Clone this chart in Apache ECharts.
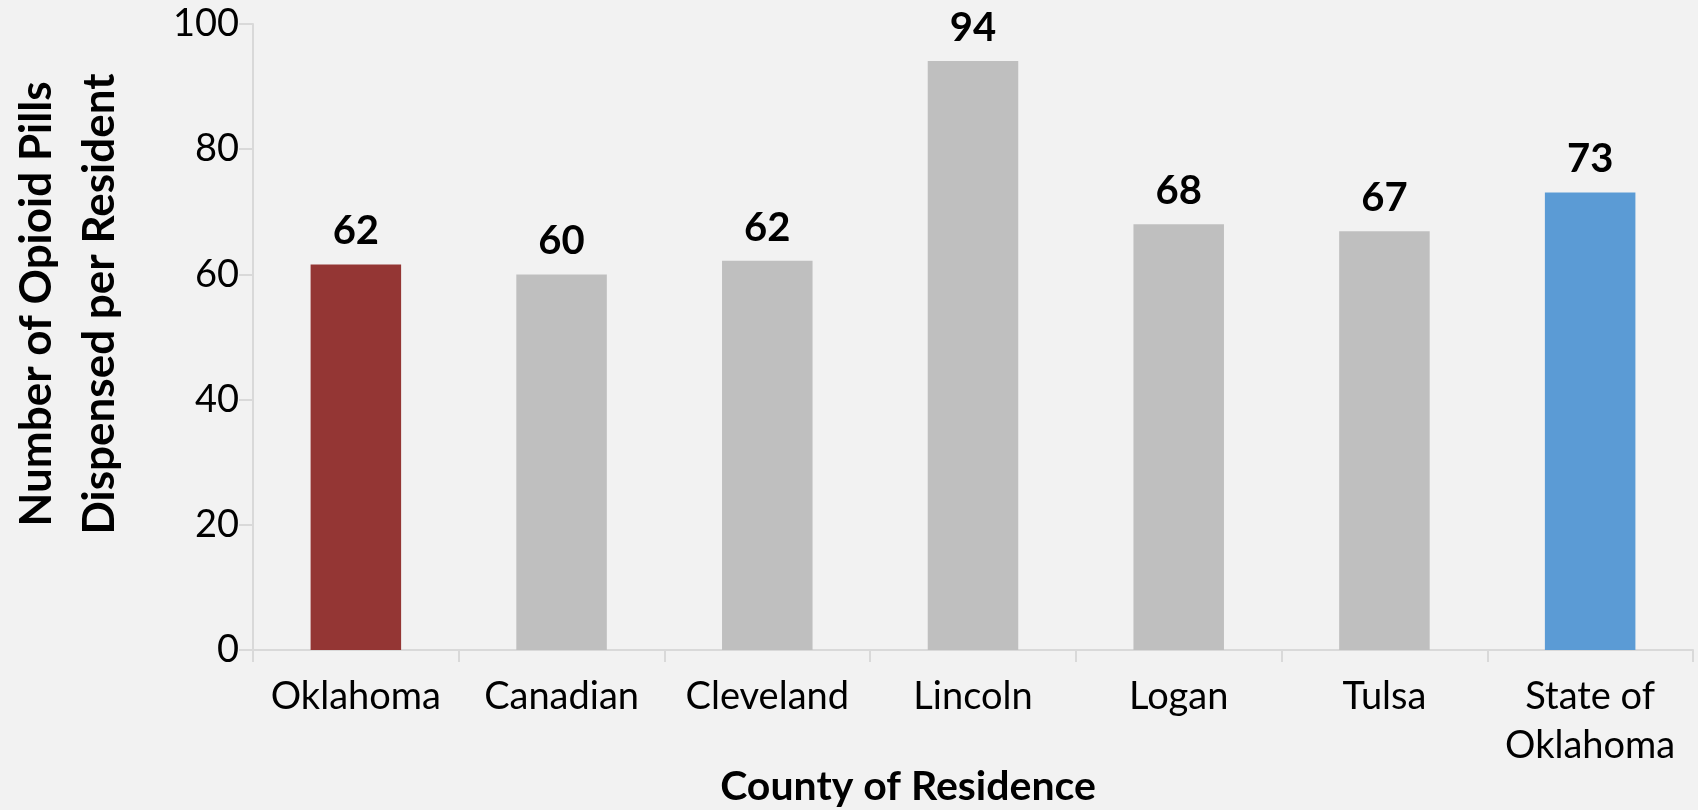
<!DOCTYPE html>
<html>
<head>
<meta charset="utf-8">
<script src="https://cdn.jsdelivr.net/npm/echarts@6/dist/echarts.min.js"></script>
<style>
html,body{margin:0;padding:0;background:#f2f2f2;}
#c{width:1698px;height:810px;}
</style>
</head>
<body>
<div id="c"></div>
<script>
const categories = ['Oklahoma', 'Canadian', 'Cleveland', 'Lincoln', 'Logan', 'Tulsa', 'State of\nOklahoma'];
const pillsPerResident = [61.6, 60.0, 62.2, 94.1, 68.0, 66.9, 73.1];
const barColors = ['#943634', '#bfbfbf', '#bfbfbf', '#bfbfbf', '#bfbfbf', '#bfbfbf', '#5b9bd5'];
const yTitle = 'Number of Opioid Pills\nDispensed per Resident';
const xTitle = 'County of Residence';

const FONT = 'Lato';
const chart = echarts.init(document.getElementById('c'));
chart.setOption({
  backgroundColor: '#f2f2f2',
  animation: false,
  grid: { left: 253, right: 5, top: 24, bottom: 160, containLabel: false },
  xAxis: {
    type: 'category',
    data: categories,
    boundaryGap: true,
    axisLine: { show: true, lineStyle: { color: '#d9d9d9', width: 2 } },
    axisTick: { show: true, length: 12, alignWithLabel: false, lineStyle: { color: '#d9d9d9', width: 2 } },
    axisLabel: { color: '#000', fontFamily: FONT, fontSize: 38, margin: 22, lineHeight: 49, interval: 0 }
  },
  yAxis: {
    type: 'value',
    min: 0, max: 100, interval: 20,
    axisLine: { show: true, lineStyle: { color: '#d9d9d9', width: 2 } },
    axisTick: { show: true, length: 14, lineStyle: { color: '#d9d9d9', width: 2 } },
    splitLine: { show: false },
    axisLabel: { color: '#000', fontFamily: FONT, fontSize: 38, margin: 14 }
  },
  series: [{
    type: 'bar',
    data: pillsPerResident.map((v, i) => ({ value: v, itemStyle: { color: barColors[i] } })),
    barWidth: '44%',
    label: {
      show: true, position: 'top', distance: 13,
      color: '#000', fontFamily: FONT, fontWeight: 'bold', fontSize: 40,
      formatter: p => Math.round(p.value)
    }
  }],
  graphic: [
    {
      type: 'text', x: 68, y: 304, rotation: Math.PI / 2,
      style: { text: yTitle, fill: '#000', font: 'bold 44px ' + FONT, align: 'center', verticalAlign: 'middle', lineHeight: 63 }
    },
    {
      type: 'text', x: 908, y: 787,
      style: { text: xTitle, fill: '#000', font: 'bold 41px ' + FONT, align: 'center', verticalAlign: 'middle' }
    }
  ]
});
</script>
</body>
</html>
